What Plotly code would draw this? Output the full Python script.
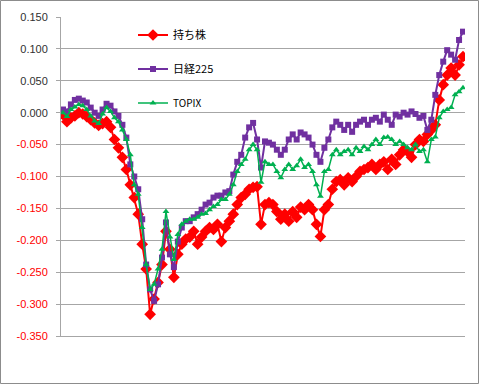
import plotly.graph_objects as go

# ---- data ----
series_names = ["持ち株", "日経225", "TOPIX"]

mochikabu = [
    -0.003, -0.014, -0.008, -0.005, 0.000, -0.002, -0.006, -0.011, -0.016, -0.020,
    -0.017, -0.014, -0.023, -0.042, -0.055, -0.070, -0.089, -0.113, -0.133, -0.159,
    -0.206, -0.245, -0.316, -0.292, -0.266, -0.238, -0.186, -0.214, -0.258, -0.222,
    -0.206, -0.198, -0.195, -0.186, -0.206, -0.195, -0.186, -0.180, -0.183, -0.175,
    -0.202, -0.180, -0.170, -0.159, -0.144, -0.133, -0.128, -0.120, -0.117, -0.116,
    -0.175, -0.144, -0.141, -0.144, -0.155, -0.167, -0.159, -0.170, -0.155, -0.164,
    -0.148, -0.152, -0.144, -0.152, -0.175, -0.194, -0.152, -0.144, -0.120, -0.108,
    -0.105, -0.113, -0.102, -0.108, -0.100, -0.092, -0.089, -0.086, -0.081, -0.089,
    -0.081, -0.077, -0.089, -0.073, -0.081, -0.066, -0.058, -0.061, -0.070, -0.050,
    -0.042, -0.045, -0.034, -0.027, -0.019, 0.020, 0.044, 0.059, 0.070, 0.059,
    0.075, 0.088,
]

nikkei225 = [
    0.005, 0.002, 0.013, 0.020, 0.022, 0.019, 0.016, 0.008, 0.000, -0.005,
    0.005, 0.014, 0.011, 0.002, -0.005, -0.019, -0.039, -0.081, -0.100, -0.120,
    -0.167, -0.238, -0.277, -0.295, -0.269, -0.227, -0.172, -0.222, -0.242, -0.202,
    -0.180, -0.170, -0.170, -0.164, -0.159, -0.152, -0.144, -0.141, -0.133, -0.130,
    -0.130, -0.125, -0.123, -0.097, -0.077, -0.066, -0.039, -0.023, -0.016, -0.042,
    -0.086, -0.045, -0.047, -0.050, -0.058, -0.066, -0.058, -0.042, -0.034, -0.042,
    -0.031, -0.034, -0.039, -0.050, -0.066, -0.077, -0.055, -0.042, -0.023, -0.014,
    -0.019, -0.027, -0.019, -0.030, -0.019, -0.014, -0.011, -0.019, -0.011, -0.008,
    -0.014, -0.003, -0.011, -0.019, -0.003, -0.006, 0.000, -0.003, 0.002, -0.002,
    -0.008, -0.005, -0.027, -0.011, 0.028, 0.059, 0.080, 0.098, 0.091, 0.083,
    0.114, 0.127,
]

topix = [
    0.000, -0.006, 0.005, 0.009, 0.013, 0.011, 0.005, -0.005, -0.013, -0.017,
    -0.002, 0.008, 0.002, -0.008, -0.014, -0.027, -0.042, -0.066, -0.113, -0.128,
    -0.180, -0.238, -0.277, -0.269, -0.245, -0.214, -0.155, -0.195, -0.230, -0.191,
    -0.175, -0.170, -0.167, -0.167, -0.164, -0.159, -0.158, -0.152, -0.147, -0.144,
    -0.136, -0.136, -0.128, -0.113, -0.092, -0.081, -0.073, -0.058, -0.050, -0.058,
    -0.109, -0.077, -0.081, -0.081, -0.092, -0.102, -0.089, -0.081, -0.089, -0.083,
    -0.073, -0.086, -0.081, -0.092, -0.113, -0.131, -0.092, -0.089, -0.066, -0.058,
    -0.066, -0.061, -0.058, -0.066, -0.055, -0.061, -0.053, -0.058, -0.050, -0.042,
    -0.050, -0.039, -0.038, -0.042, -0.050, -0.045, -0.050, -0.055, -0.058, -0.050,
    -0.061, -0.058, -0.077, -0.042, -0.038, -0.008, 0.002, 0.005, 0.008, 0.028,
    0.033, 0.039,
]

tick_values = [0.15, 0.10, 0.05, 0.00, -0.05, -0.10, -0.15, -0.20, -0.25, -0.30, -0.35]

# ---- figure ----
W, H = 480, 385
L, R, T, B = 61, 15, 17, 49
pw, ph = W - L - R, H - T - B

x = list(range(len(mochikabu)))

fig = go.Figure()
fig.add_trace(go.Scatter(
    x=x, y=mochikabu, name=series_names[0], mode="lines+markers",
    line=dict(color="#FF0000", width=2),
    marker=dict(symbol="diamond", size=9, color="#FF0000"),
    legend="legend",
))
fig.add_trace(go.Scatter(
    x=x, y=nikkei225, name=series_names[1], mode="lines+markers",
    line=dict(color="#7030A0", width=2),
    marker=dict(symbol="square", size=6, color="#7030A0"),
    legend="legend2",
))
fig.add_trace(go.Scatter(
    x=x, y=topix, name=series_names[2], mode="lines+markers",
    line=dict(color="#00B050", width=1.5),
    marker=dict(symbol="triangle-up", size=6, color="#00B050"),
    legend="legend3",
))

def lab(v):
    s = f"{v:.3f}"
    if v < 0:
        return f"<span style='color:#FF0000'>{s}</span>"
    return s

grid = "#A6A6A6"
fig.update_yaxes(
    range=[-0.35, 0.15], tickvals=tick_values, ticktext=[lab(v) for v in tick_values],
    showgrid=True, gridcolor=grid, gridwidth=1, zeroline=False,
    showline=True, linecolor=grid, linewidth=1,
    ticks="outside", ticklen=4, tickcolor=grid, ticklabelstandoff=6,
    tickfont=dict(family="Liberation Sans, Arial", size=11, color="#303030"),
)
fig.update_xaxes(
    range=[-0.5, len(x) - 0.5], showticklabels=False, showgrid=False, zeroline=False,
    showline=True, linecolor=grid, linewidth=1, ticks="",
)

leg_common = dict(
    x=(133 - L) / pw, xanchor="left", yanchor="middle",
    bgcolor="rgba(0,0,0,0)", borderwidth=0, itemwidth=30,
    font=dict(family="Noto Sans CJK JP", size=11, color="#000000"),
)
def ypos(py):
    return (H - B - py) / ph

fig.update_layout(
    width=W, height=H,
    margin=dict(l=L, r=R, t=T, b=B),
    paper_bgcolor="white", plot_bgcolor="white",
    showlegend=True,
    legend=dict(y=ypos(35), **leg_common),
    legend2=dict(y=ypos(69), **leg_common),
    legend3=dict(y=ypos(103), **{**leg_common, "font": dict(family="Noto Sans CJK JP", size=10, color="#000000")}),
    shapes=[dict(
        type="rect", xref="paper", yref="paper",
        x0=(0.5 - L) / pw, x1=(478.5 - L) / pw,
        y0=(H - B - 383.5) / ph, y1=(H - B - 0.5) / ph,
        line=dict(color="#8C8C8C", width=1), fillcolor="rgba(0,0,0,0)", layer="above",
    )],
)

fig.write_html(
    "out.html",
    config={"displayModeBar": False},
    post_script="document.body.style.margin='0';document.body.style.padding='0';document.body.style.overflow='hidden';",
)
